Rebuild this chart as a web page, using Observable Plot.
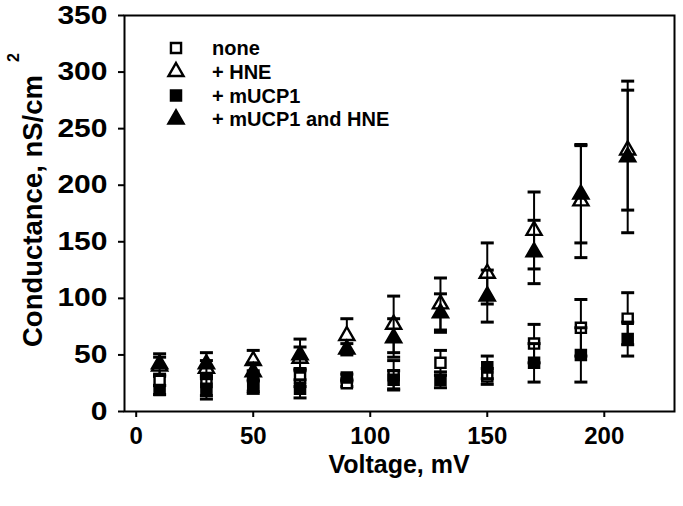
<!DOCTYPE html>
<html>
<head>
<meta charset="utf-8">
<script src="https://cdn.jsdelivr.net/npm/d3@7"></script>
<script src="https://cdn.jsdelivr.net/npm/@observablehq/plot@0.6"></script>
<style>
  html, body { margin: 0; padding: 0; background: #fff; }
  #chart svg { display: block; }
</style>
</head>
<body>
<div id="chart"></div>
<script>
// ---- data ----
const voltage = [10, 30, 50, 70, 90, 110, 130, 150, 170, 190, 210];
const seriesNames = ["none", "+ HNE", "+ mUCP1", "+ mUCP1 and HNE"];
const noneVals   = [27, 26, 25, 30, 25, 32, 43, 31, 60, 74, 82];
const noneErr    = [4, 12, 7, 8, 3, 13, 11, 7, 17, 25, 23];
const hneVals    = [40, 38, 45, 47, 67, 77, 95, 122, 160, 186, 231];
const hneErr     = [8, 7, 9, 10, 15, 25, 23, 27, 34, 50, 53];
const mucpVals   = [19, 20, 22, 20, 30, 28, 28, 39, 43, 50, 64];
const mucpErr    = [4, 9, 6, 8, 3, 8, 7, 10, 17, 24, 15];
const bothVals   = [42, 42, 35, 50, 55, 65, 87, 102, 141, 192, 225];
const bothErr    = [9, 10, 8, 14, 5, 17, 17, 23, 28, 43, 67];
const xTicks = [0, 50, 100, 150, 200];
const yTicks = [0, 50, 100, 150, 200, 250, 300, 350];
const xTitle = "Voltage, mV";
const yTitle = "Conductance, nS/cm";
const yTitleSup = "2";

// ---- build tables ----
const valueSets = [noneVals, hneVals, mucpVals, bothVals];
const errSets = [noneErr, hneErr, mucpErr, bothErr];
const styles = [
  {symbol: "square",   fill: "white"},
  {symbol: "triangle", fill: "white"},
  {symbol: "square",   fill: "black"},
  {symbol: "triangle", fill: "black"}
];
const rSquare = 5.7, rTri = 5.6;
const tables = seriesNames.map((name, s) =>
  voltage.map((v, i) => ({series: name, v, y: valueSets[s][i], e: errSets[s][i]}))
);

const cap = {draw(ctx) { ctx.moveTo(-6.5, 0); ctx.lineTo(6.5, 0); }};

const marks = [];
tables.forEach((rows, s) => {
  marks.push(Plot.ruleX(rows, {x: "v", y1: d => d.y - d.e, y2: d => d.y + d.e, stroke: "black", strokeWidth: 2}));
  marks.push(Plot.dot(rows, {x: "v", y: d => d.y + d.e, symbol: cap, stroke: "black", strokeWidth: 3}));
  marks.push(Plot.dot(rows, {x: "v", y: d => d.y - d.e, symbol: cap, stroke: "black", strokeWidth: 3}));
  marks.push(Plot.dot(rows, {
    x: "v", y: "y", symbol: styles[s].symbol,
    r: styles[s].symbol === "square" ? rSquare : rTri,
    fill: styles[s].fill, stroke: "black", strokeWidth: 2.4
  }));
});
marks.push(Plot.frame({stroke: "black", strokeWidth: 2}));

const FONT = "'Liberation Sans', Arial, sans-serif";
const plot = Plot.plot({
  width: 683,
  height: 506,
  marginLeft: 124,
  marginRight: 9,
  marginTop: 15,
  marginBottom: 95,
  style: {fontFamily: FONT, fontSize: "24px", fontWeight: "bold", color: "black", background: "white"},
  x: {domain: [-5, 230], ticks: xTicks, tickSize: 6, tickPadding: 9, label: null, tickFormat: d => String(d)},
  y: {domain: [0, 350], ticks: yTicks, tickSize: 6, tickPadding: 11, label: null, tickFormat: d => String(d)},
  marks
});
document.getElementById("chart").appendChild(plot);

// ---- styling / titles / legend ----
const svg = d3.select(plot);
svg.selectAll('[aria-label^="x-axis"] path, [aria-label^="x-axis"] line, [aria-label^="y-axis"] path, [aria-label^="y-axis"] line')
  .attr("stroke-width", 2);
// wider y tick labels as in the reference
svg.selectAll('[aria-label^="y-axis"] text')
  .attr("font-size", 25)
  .each(function() {
    const n = this.textContent.length;
    this.setAttribute("textLength", n * 16.7);
    this.setAttribute("lengthAdjust", "spacingAndGlyphs");
  });

svg.append("text")
  .attr("x", 399).attr("y", 473)
  .attr("text-anchor", "middle")
  .attr("font-size", 25).attr("font-weight", "bold")
  .attr("font-family", FONT)
  .attr("fill", "black")
  .text(xTitle);

svg.append("text")
  .attr("transform", "translate(42,347) rotate(-90)")
  .attr("text-anchor", "start")
  .attr("font-size", 27.5).attr("font-weight", "bold")
  .attr("font-family", FONT)
  .attr("fill", "black")
  .text(yTitle);
svg.append("text")
  .attr("transform", "translate(19,62) rotate(-90)")
  .attr("text-anchor", "start")
  .attr("font-size", 16).attr("font-weight", "bold")
  .attr("font-family", FONT)
  .attr("fill", "black")
  .text(yTitleSup);

const legend = svg.append("g");
seriesNames.forEach((name, s) => {
  const cy = 48 + s * 23.7;
  const r = styles[s].symbol === "square" ? rSquare : rTri;
  const type = styles[s].symbol === "square" ? d3.symbolSquare : d3.symbolTriangle;
  legend.append("path")
    .attr("transform", `translate(176,${cy})`)
    .attr("d", d3.symbol(type, r * r * Math.PI)())
    .attr("fill", styles[s].fill).attr("stroke", "black").attr("stroke-width", 2.4);
  legend.append("text")
    .attr("x", 212).attr("y", cy).attr("dy", "0.36em")
    .attr("text-anchor", "start")
    .attr("font-size", 20).attr("font-weight", "bold")
    .attr("font-family", FONT)
    .attr("fill", "black")
    .text(name);
});
</script>
</body>
</html>
